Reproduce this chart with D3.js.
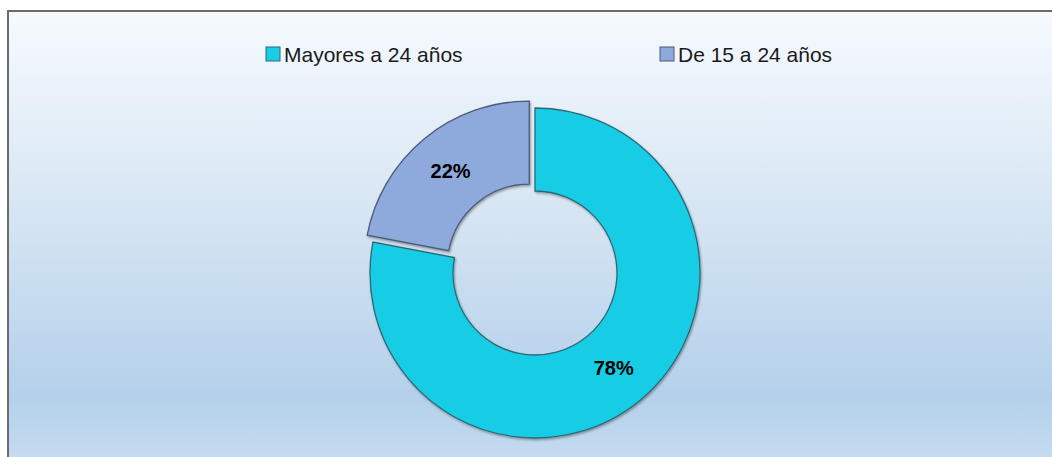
<!DOCTYPE html>
<html>
<head>
<meta charset="utf-8">
<script src="https://cdn.jsdelivr.net/npm/d3@7"></script>
<style>
  html, body { margin: 0; padding: 0; background: #fff; }
  svg { display: block; }
</style>
</head>
<body>
<svg id="chart" width="1052" height="457"></svg>
<script>
// data
const categories = ['Mayores a 24 años', 'De 15 a 24 años']
const values = [78, 22]
const colors = ['#19cde5', '#8ea9db']
const strokes = ['#2c6a78', '#4c5a78']

const W = 1052, H = 457
const cx = 535, cy = 273
const outerR = 165, innerR = 82
const explode = 9

const svg = d3.select('#chart')
const defs = svg.append('defs')

const bg = defs.append('linearGradient')
    .attr('id', 'bg')
    .attr('gradientUnits', 'userSpaceOnUse')
    .attr('x1', 0).attr('y1', 11).attr('x2', 0).attr('y2', 475)
bg.append('stop').attr('offset', '0%').attr('stop-color', '#f6fafe')
bg.append('stop').attr('offset', '40%').attr('stop-color', '#d9e7f4')
bg.append('stop').attr('offset', '83%').attr('stop-color', '#b4d0ea')
bg.append('stop').attr('offset', '100%').attr('stop-color', '#c9def1')

const shadow = defs.append('filter').attr('id', 'shadow')
    .attr('x', '-10%').attr('y', '-10%').attr('width', '120%').attr('height', '120%')
shadow.append('feDropShadow')
    .attr('dx', 1).attr('dy', 1.5).attr('stdDeviation', 1.2)
    .attr('flood-color', '#000').attr('flood-opacity', 0.35)

// chart area with left/top border, cut by the picture edge
svg.append('rect')
    .attr('x', 8).attr('y', 11)
    .attr('width', W).attr('height', H)
    .attr('fill', 'url(#bg)')
svg.append('path')
    .attr('d', `M8,${H} L8,11 L${W},11`)
    .attr('fill', 'none')
    .attr('stroke', '#6b6b6b')
    .attr('stroke-width', 2)

// donut
const pie = d3.pie().sort(null).value(d => d)
const arcs = pie(values)
const arc = d3.arc().innerRadius(innerR).outerRadius(outerR)
const labelArc = d3.arc().innerRadius((innerR + outerR) / 2).outerRadius((innerR + outerR) / 2)

const g = svg.append('g').attr('transform', `translate(${cx},${cy})`)

const slice = g.selectAll('g.slice')
    .data(arcs)
    .join('g')
    .attr('class', 'slice')
    .attr('transform', (d, i) => {
        if (i === 0) return null
        const a = (d.startAngle + d.endAngle) / 2
        return `translate(${Math.sin(a) * explode},${-Math.cos(a) * explode})`
    })

slice.append('path')
    .attr('d', arc)
    .attr('fill', (d, i) => colors[i])
    .attr('stroke', (d, i) => strokes[i])
    .attr('stroke-width', 1.3)
    .attr('filter', 'url(#shadow)')

slice.append('text')
    .attr('transform', d => `translate(${labelArc.centroid(d)})`)
    .attr('text-anchor', 'middle')
    .attr('dy', '0.36em')
    .attr('font-family', "'Liberation Sans', Arial, sans-serif")
    .attr('font-weight', 'bold')
    .attr('font-size', 20)
    .attr('fill', '#000')
    .text(d => d.value + '%')

// legend
const legendX = [266, 660]
const legend = svg.selectAll('g.legend')
    .data(categories)
    .join('g')
    .attr('class', 'legend')
    .attr('transform', (d, i) => `translate(${legendX[i]},47)`)

legend.append('rect')
    .attr('width', 14).attr('height', 14)
    .attr('fill', (d, i) => colors[i])
    .attr('stroke', (d, i) => strokes[i])
    .attr('stroke-width', 1)

legend.append('text')
    .attr('x', 18).attr('y', 14.5)
    .attr('font-family', "'Liberation Sans', Arial, sans-serif")
    .attr('font-size', 21)
    .attr('fill', '#1a1a1a')
    .text(d => d)
</script>
</body>
</html>
